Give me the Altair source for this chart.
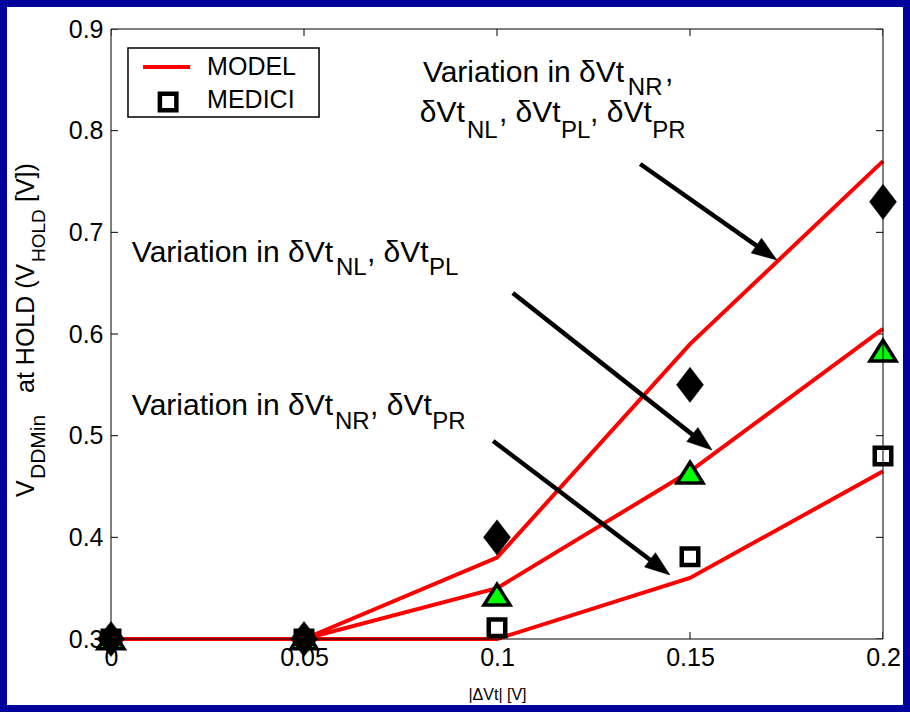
import math
import altair as alt
import pandas as pd

# ---------------- data ----------------
dvt = [0.0, 0.05, 0.10, 0.15, 0.20]

model_all = [0.300, 0.300, 0.380, 0.590, 0.770]     # dVt_NR, NL, PL, PR
model_nl_pl = [0.300, 0.300, 0.350, 0.465, 0.605]   # dVt_NL, PL
model_nr_pr = [0.300, 0.300, 0.300, 0.360, 0.465]   # dVt_NR, PR

medici_all = [0.300, 0.300, 0.400, 0.550, 0.730]    # diamonds
medici_nl_pl = [0.300, 0.300, 0.343, 0.463, 0.583]  # triangles
medici_nr_pr = [0.300, 0.300, 0.311, 0.381, 0.480]  # squares

x_ticks = [0, 0.05, 0.1, 0.15, 0.2]
y_ticks = [0.3, 0.4, 0.5, 0.6, 0.7, 0.8, 0.9]

legend_labels = ["MODEL", "MEDICI"]
x_title = "|ΔVt| [V]"

# annotation texts (segments, subscript flagged)
ann_text = ["Variation in δVt", "NR", ",",
            "δVt", "NL", ", δVt", "PL", ", δVt", "PR",
            "Variation in δVt", "NL", ", δVt", "PL",
            "Variation in δVt", "NR", ", δVt", "PR"]
ann_sub = [0, 1, 0, 0, 1, 0, 1, 0, 1, 0, 1, 0, 1, 0, 1, 0, 1]
ann_x = [0.0808, 0.1339, 0.1435,
         0.0800, 0.0922, 0.1005, 0.1166, 0.1241, 0.1402,
         0.0054, 0.0583, 0.0663, 0.0824,
         0.0054, 0.0580, 0.0671, 0.0832]
ann_y = [0.8479, 0.8351, 0.8479,
         0.8085, 0.7928, 0.8085, 0.7928, 0.8085, 0.7928,
         0.6708, 0.6580, 0.6708, 0.6580,
         0.5203, 0.5066, 0.5203, 0.5066]

# y-axis title segments (rotated, reading upwards)
ytitle_text = ["V", "DDMin", "at HOLD (V", "HOLD", "[V])"]
ytitle_sub = [0, 1, 0, 1, 0]
ytitle_fs = [25, 21, 25, 19, 25]
ytitle_y = [0.4397, 0.4574, 0.5420, 0.6708, 0.7298]

# arrows: start and tip (data units)
arrow_x0 = [0.1371, 0.1041, 0.0990]
arrow_y0 = [0.7672, 0.6403, 0.4948]
arrow_x1 = [0.1725, 0.1557, 0.1448]
arrow_y1 = [0.6728, 0.4859, 0.3630]

# ---------------- layout / style ----------------
W, H = 772, 610
PAD = {"left": 111, "top": 29, "right": 27, "bottom": 73}
XD, YD = (0.0, 0.2), (0.3, 0.9)
FONT = "Liberation Sans"
NAVY = "#00009C"
MAIN_FS, SUB_FS = 30, 24

px_x = W / (XD[1] - XD[0])
px_y = H / (YD[1] - YD[0])

xs = alt.Scale(domain=list(XD), nice=False, zero=False)
ys = alt.Scale(domain=list(YD), nice=False, zero=False)

x_axis = alt.Axis(values=x_ticks, format="~g", grid=False, ticks=False, tickSize=0,
                  domain=False, labelFontSize=25, labelFont=FONT, labelColor="black",
                  labelPadding=6, labelFlush=False, labelOverlap=False,
                  title=x_title, titleFont=FONT, titleFontSize=16,
                  titleFontWeight="normal", titleColor="black", titleY=60,
                  titleBaseline="alphabetic")
y_axis = alt.Axis(values=y_ticks, format="~g", grid=False, ticks=False, tickSize=0,
                  domain=False, labelFontSize=25, labelFont=FONT, labelColor="black",
                  labelPadding=8, labelFlush=False, labelOverlap=False, title="")


def X(f="x"):
    return alt.X(f"{f}:Q", scale=xs, axis=x_axis)


def Y(f="y"):
    return alt.Y(f"{f}:Q", scale=ys, axis=y_axis)


one = pd.DataFrame({"a": [0]})

# navy frame round the white page
frame = alt.Chart(one).mark_rect(fillOpacity=0, stroke=NAVY, strokeWidth=14).encode(
    x=alt.value(-PAD["left"]), x2=alt.value(W + PAD["right"]),
    y=alt.value(-PAD["top"]), y2=alt.value(H + PAD["bottom"]))

# plot box (drawn above markers, as in the reference)
box = alt.Chart(pd.DataFrame({"x": [XD[0]], "x2": [XD[1]], "y": [YD[0]], "y2": [YD[1]]})
                ).mark_rect(fillOpacity=0, stroke="black", strokeWidth=1).encode(
    x=X(), x2="x2:Q", y=Y(), y2="y2:Q")

# inward ticks on all four sides
tx = pd.DataFrame([{"x": t, "y": e} for t in x_ticks for e in YD])
ty = pd.DataFrame([{"x": e, "y": t} for t in y_ticks for e in XD])
ticks_x = alt.Chart(tx).mark_tick(orient="vertical", size=14, thickness=1,
                                  color="black", opacity=1, clip=True).encode(x=X(), y=Y())
ticks_y = alt.Chart(ty).mark_tick(orient="horizontal", size=14, thickness=1,
                                  color="black", opacity=1, clip=True).encode(x=X(), y=Y())

# model lines
rows = []
for name, vals in [("all", model_all), ("nlpl", model_nl_pl), ("nrpr", model_nr_pr)]:
    for xv, yv in zip(dvt, vals):
        rows.append({"x": xv, "y": yv, "s": name})
lines = alt.Chart(pd.DataFrame(rows)).mark_line(color="#FF0000", strokeWidth=4).encode(
    x=X(), y=Y(), detail="s:N")

TRI = "M0,-0.85L1,0.75L-1,0.75Z"
DIA = "M0,-1.3L1,0L0,1.3L-1,0Z"

sq = alt.Chart(pd.DataFrame({"x": dvt, "y": medici_nr_pr})).mark_point(
    shape="square", size=272, filled=True, fill="white", stroke="black",
    strokeWidth=4.5, opacity=1).encode(x=X(), y=Y())
tri = alt.Chart(pd.DataFrame({"x": dvt, "y": medici_nl_pl})).mark_point(
    shape=TRI, size=676, filled=True, fill="#00FF00", stroke="black",
    strokeWidth=3.5, opacity=1).encode(x=X(), y=Y())
dia = alt.Chart(pd.DataFrame({"x": dvt, "y": medici_all})).mark_point(
    shape=DIA, size=729, filled=True, fill="black", stroke="black",
    strokeWidth=0.5, opacity=1).encode(x=X(), y=Y())

# arrows
shaft_rows, head_rows = [], []
for x0, y0, x1, y1 in zip(arrow_x0, arrow_y0, arrow_x1, arrow_y1):
    dxp, dyp = (x1 - x0) * px_x, -(y1 - y0) * px_y
    L = math.hypot(dxp, dyp)
    f = 1 - 18 / L
    shaft_rows.append({"x": x0, "y": y0, "x2": x0 + (x1 - x0) * f, "y2": y0 + (y1 - y0) * f})
    head_rows.append({"x": x1, "y": y1, "ang": math.degrees(math.atan2(dyp, dxp)) % 360})
shafts = alt.Chart(pd.DataFrame(shaft_rows)).mark_rule(color="black", strokeWidth=4.5).encode(
    x=X(), y=Y(), x2="x2:Q", y2="y2:Q")
heads = alt.Chart(pd.DataFrame(head_rows)).mark_point(
    shape="M0,0L-1,-0.36L-1,0.36Z", size=2500, filled=True, fill="black",
    stroke="black", strokeWidth=0.5, opacity=1).encode(
    x=X(), y=Y(), angle=alt.Angle("ang:Q", scale=None))

# annotation texts
ann_df = pd.DataFrame({"x": ann_x, "y": ann_y, "t": ann_text,
                       "fs": [SUB_FS if s else MAIN_FS for s in ann_sub]})
ann = alt.Chart(ann_df).mark_text(align="left", baseline="alphabetic", font=FONT,
                                  color="black").encode(
    x=X(), y=Y(), text="t:N", size=alt.Size("fs:Q", scale=None))

# rotated y title
yt_df = pd.DataFrame({"x": [-0.0170 if s else -0.0199 for s in ytitle_sub], "y": ytitle_y,
                      "t": ytitle_text, "fs": ytitle_fs})
ytitle = alt.Chart(yt_df).mark_text(align="left", baseline="alphabetic", font=FONT,
                                    color="black", angle=270).encode(
    x=X(), y=Y(), text="t:N", size=alt.Size("fs:Q", scale=None))

# legend
leg_box = alt.Chart(pd.DataFrame({"x": [0.0044], "x2": [0.0539], "y": [0.8134], "y2": [0.8813]})
                    ).mark_rect(fill="white", stroke="black", strokeWidth=1.5).encode(
    x=X(), x2="x2:Q", y=Y(), y2="y2:Q")
leg_line = alt.Chart(pd.DataFrame({"x": [0.0083], "x2": [0.0205], "y": [0.8626]})
                     ).mark_rule(color="#FF0000", strokeWidth=4).encode(x=X(), x2="x2:Q", y=Y())
leg_sq = alt.Chart(pd.DataFrame({"x": [0.0148], "y": [0.8282]})).mark_point(
    shape="square", size=272, filled=True, fill="white", stroke="black",
    strokeWidth=4.5, opacity=1).encode(x=X(), y=Y())
leg_txt = alt.Chart(pd.DataFrame({"x": [0.0249, 0.0249], "y": [0.8548, 0.8223],
                                  "t": legend_labels})).mark_text(
    align="left", baseline="alphabetic", font=FONT, fontSize=25, color="black").encode(
    x=X(), y=Y(), text="t:N")

chart = alt.layer(
    ticks_x, ticks_y, lines, shafts, heads, sq, tri, dia, box, ann, ytitle,
    leg_box, leg_line, leg_sq, leg_txt, frame
).properties(
    width=W, height=H,
    padding=PAD,
    autosize=alt.AutoSizeParams(type="none"),
    background="white",
).configure_view(strokeWidth=0)

chart.save("out.html", embed_options={"renderer": "svg", "actions": False})
